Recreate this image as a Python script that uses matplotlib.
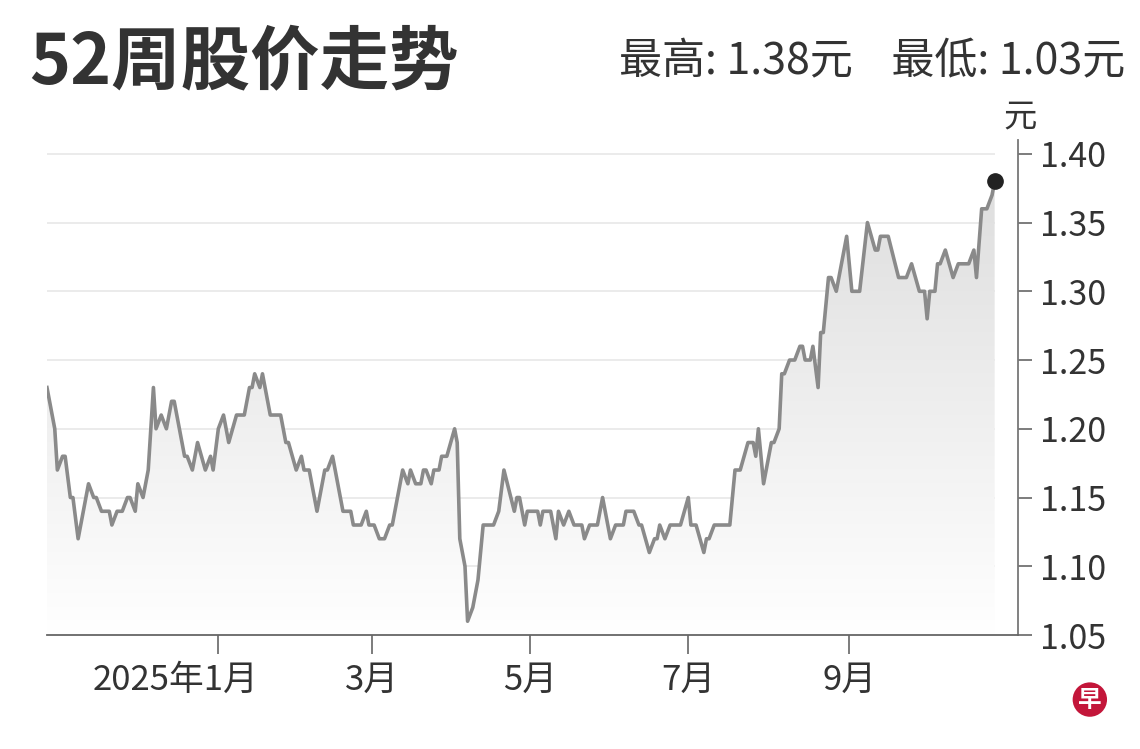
import numpy as np
import pandas as pd
import matplotlib
matplotlib.use("Agg")
import matplotlib.pyplot as plt
import matplotlib.dates as mdates
from matplotlib.colors import LinearSegmentedColormap
from matplotlib.transforms import ScaledTranslation

plt.rcParams['font.family'] = ['Noto Sans CJK SC', 'DejaVu Sans']

# ---------- データ ----------
dates = [
    "2024-10-27", "2024-10-30", "2024-10-31", "2024-11-02", "2024-11-03", "2024-11-05",
    "2024-11-06", "2024-11-08", "2024-11-10", "2024-11-12", "2024-11-14", "2024-11-15",
    "2024-11-17", "2024-11-20", "2024-11-21", "2024-11-23", "2024-11-25", "2024-11-27",
    "2024-11-28", "2024-11-30", "2024-12-01", "2024-12-03", "2024-12-05", "2024-12-07",
    "2024-12-08", "2024-12-10", "2024-12-12", "2024-12-14", "2024-12-15", "2024-12-19",
    "2024-12-20", "2024-12-22", "2024-12-24", "2024-12-27", "2024-12-29", "2024-12-30",
    "2025-01-01", "2025-01-03", "2025-01-05", "2025-01-08", "2025-01-11", "2025-01-13",
    "2025-01-14", "2025-01-15", "2025-01-17", "2025-01-18", "2025-01-21", "2025-01-25",
    "2025-01-27", "2025-01-28", "2025-01-31", "2025-02-02", "2025-02-03", "2025-02-05",
    "2025-02-08", "2025-02-11", "2025-02-12", "2025-02-14", "2025-02-16", "2025-02-18",
    "2025-02-21", "2025-02-22", "2025-02-25", "2025-02-27", "2025-02-28", "2025-03-02",
    "2025-03-04", "2025-03-06", "2025-03-08", "2025-03-09", "2025-03-11", "2025-03-13",
    "2025-03-15", "2025-03-16", "2025-03-18", "2025-03-20", "2025-03-21", "2025-03-22",
    "2025-03-24", "2025-03-25", "2025-03-27", "2025-03-28", "2025-03-30", "2025-04-02",
    "2025-04-03", "2025-04-04", "2025-04-06", "2025-04-07", "2025-04-09", "2025-04-11",
    "2025-04-13", "2025-04-17", "2025-04-19", "2025-04-21", "2025-04-25", "2025-04-26",
    "2025-04-27", "2025-04-29", "2025-04-30", "2025-05-04", "2025-05-05", "2025-05-06",
    "2025-05-09", "2025-05-11", "2025-05-12", "2025-05-14", "2025-05-16", "2025-05-18",
    "2025-05-21", "2025-05-22", "2025-05-24", "2025-05-27", "2025-05-29", "2025-05-31",
    "2025-06-01", "2025-06-03", "2025-06-06", "2025-06-07", "2025-06-10", "2025-06-12",
    "2025-06-13", "2025-06-16", "2025-06-18", "2025-06-19", "2025-06-20", "2025-06-22",
    "2025-06-24", "2025-06-28", "2025-07-01", "2025-07-02", "2025-07-04", "2025-07-07",
    "2025-07-08", "2025-07-09", "2025-07-11", "2025-07-17", "2025-07-19", "2025-07-21",
    "2025-07-24", "2025-07-26", "2025-07-27", "2025-07-28", "2025-07-30", "2025-08-02",
    "2025-08-03", "2025-08-05", "2025-08-06", "2025-08-07", "2025-08-09", "2025-08-11",
    "2025-08-13", "2025-08-14", "2025-08-15", "2025-08-17", "2025-08-18", "2025-08-20",
    "2025-08-21", "2025-08-22", "2025-08-24", "2025-08-25", "2025-08-27", "2025-08-29",
    "2025-08-31", "2025-09-02", "2025-09-05", "2025-09-08", "2025-09-11", "2025-09-12",
    "2025-09-13", "2025-09-16", "2025-09-20", "2025-09-23", "2025-09-25", "2025-09-28",
    "2025-09-30", "2025-10-01", "2025-10-02", "2025-10-04", "2025-10-05", "2025-10-06",
    "2025-10-08", "2025-10-11", "2025-10-13", "2025-10-17", "2025-10-19", "2025-10-20",
    "2025-10-22", "2025-10-24", "2025-10-26", "2025-10-27",
]
prices = [
    1.23, 1.20, 1.17, 1.18, 1.18, 1.15,
    1.15, 1.12, 1.14, 1.16, 1.15, 1.15,
    1.14, 1.14, 1.13, 1.14, 1.14, 1.15,
    1.15, 1.14, 1.16, 1.15, 1.17, 1.23,
    1.20, 1.21, 1.20, 1.22, 1.22, 1.18,
    1.18, 1.17, 1.19, 1.17, 1.18, 1.17,
    1.20, 1.21, 1.19, 1.21, 1.21, 1.23,
    1.23, 1.24, 1.23, 1.24, 1.21, 1.21,
    1.19, 1.19, 1.17, 1.18, 1.17, 1.17,
    1.14, 1.17, 1.17, 1.18, 1.16, 1.14,
    1.14, 1.13, 1.13, 1.14, 1.13, 1.13,
    1.12, 1.12, 1.13, 1.13, 1.15, 1.17,
    1.16, 1.17, 1.16, 1.16, 1.17, 1.17,
    1.16, 1.17, 1.17, 1.18, 1.18, 1.20,
    1.19, 1.12, 1.10, 1.06, 1.07, 1.09,
    1.13, 1.13, 1.14, 1.17, 1.14, 1.15,
    1.15, 1.13, 1.14, 1.14, 1.13, 1.14,
    1.14, 1.12, 1.14, 1.13, 1.14, 1.13,
    1.13, 1.12, 1.13, 1.13, 1.15, 1.13,
    1.12, 1.13, 1.13, 1.14, 1.14, 1.13,
    1.13, 1.11, 1.12, 1.12, 1.13, 1.12,
    1.13, 1.13, 1.15, 1.13, 1.13, 1.11,
    1.12, 1.12, 1.13, 1.13, 1.17, 1.17,
    1.19, 1.19, 1.18, 1.20, 1.16, 1.19,
    1.19, 1.20, 1.24, 1.24, 1.25, 1.25,
    1.26, 1.26, 1.25, 1.25, 1.26, 1.23,
    1.27, 1.27, 1.31, 1.31, 1.30, 1.32,
    1.34, 1.30, 1.30, 1.35, 1.33, 1.33,
    1.34, 1.34, 1.31, 1.31, 1.32, 1.30,
    1.30, 1.28, 1.30, 1.30, 1.32, 1.32,
    1.33, 1.31, 1.32, 1.32, 1.33, 1.31,
    1.36, 1.36, 1.37, 1.38,
]

y_ticks = [1.05, 1.10, 1.15, 1.20, 1.25, 1.30, 1.35, 1.40]
x_tick_dates = ["2025-01-01", "2025-03-01", "2025-05-01", "2025-07-01", "2025-09-01"]
x_tick_labels = ["2025年1月", "3月", "5月", "7月", "9月"]

title = "52周股价走势"
stats = "最高: 1.38元    最低: 1.03元"
unit = "元"

# ---------- 描画 ----------
x = pd.to_datetime(dates)
y = np.array(prices)

fig = plt.figure(figsize=(11.4, 7.49), dpi=100)
ax = fig.add_axes([0.0412, 0.1522, 0.8518, 0.6608])

x_min = pd.Timestamp("2024-10-27")
x_max = pd.Timestamp("2025-11-05")
y_min, y_max = 1.05, 1.41

# グリッド線（データの終点まで）
ax.hlines(y_ticks[1:], x[0], x[-1], color="#e9e9e9", linewidth=1.3, zorder=0)

# グラデーション塗りつぶし
poly = ax.fill_between(x, y, y_min, color="none", linewidth=0)
cmap = LinearSegmentedColormap.from_list("g", ["#ffffff", "#dcdcdc"])
grad = np.linspace(0, 1, 256).reshape(-1, 1)
im = ax.imshow(grad, extent=[mdates.date2num(x_min), mdates.date2num(x_max), y_min, 1.40],
               origin="lower", cmap=cmap, aspect="auto", zorder=1)
im.set_clip_path(poly.get_paths()[0], transform=ax.transData)

ax.plot(x, y, color="#8a8a8a", linewidth=2.6, zorder=3, solid_joinstyle="round")
ax.plot(x[-1], y[-1], "o", color="#222222", markersize=11, zorder=4)

ax.set_xlim(x_min, x_max)
ax.set_ylim(y_min, y_max)

# 軸
for s in ["top", "left"]:
    ax.spines[s].set_visible(False)
ax.spines["bottom"].set_color("#666666")
ax.spines["bottom"].set_linewidth(1.3)
ax.spines["right"].set_color("#777777")
ax.spines["right"].set_linewidth(1.3)

ax.yaxis.tick_right()
ax.set_yticks(y_ticks)
ax.set_yticklabels([f"{v:.2f}" for v in y_ticks])
ax.tick_params(axis="y", length=10, width=1.2, color="#666666", labelsize=24.5,
               labelcolor="#333333", pad=6)

ax.set_xticks(pd.to_datetime(x_tick_dates))
ax.set_xticklabels(x_tick_labels)
ax.tick_params(axis="x", length=14, width=1.2, color="#666666", labelsize=25,
               labelcolor="#333333", pad=6)
# 最初のラベルは少し左へ
lbl0 = ax.get_xticklabels()[0]
lbl0.set_transform(lbl0.get_transform() + ScaledTranslation(-0.43, 0, fig.dpi_scale_trans))

# タイトル類
fig.text(0.026, 0.916, title, fontsize=50, fontweight="bold", color="#333333",
         ha="left", va="center")
fig.text(0.987, 0.917, stats, fontsize=31, color="#333333", ha="right", va="center")
fig.text(0.895, 0.844, unit, fontsize=24, color="#333333", ha="center", va="center")

# ロゴ
fig.text(0.956, 0.066, "早", fontsize=17, color="white", fontweight="bold",
         ha="center", va="center",
         bbox=dict(boxstyle="circle,pad=0.22", fc="#c3163a", ec="none"))

fig.savefig("out.png", dpi=100)
